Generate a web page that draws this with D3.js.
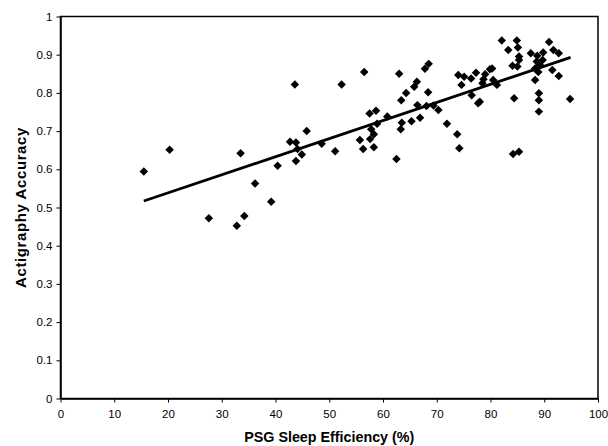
<!DOCTYPE html>
<html>
<head>
<meta charset="utf-8">
<script src="https://cdn.jsdelivr.net/npm/d3@7"></script>
<style>
  body { margin: 0; background: #fff; }
  svg { display: block; font-family: "Liberation Sans", Arial, sans-serif; }
</style>
</head>
<body>
<svg id="chart" width="608" height="446"></svg>
<script>
// PSG sleep efficiency (%) for each subject
const psgEfficiency = [
  15.5, 20.3, 27.6, 32.8, 33.5, 34.2, 36.2, 39.2, 40.4, 42.7, 43.6, 43.8, 43.8,
  44.1, 44.9, 45.8, 48.6, 51.1, 52.3, 55.7, 56.3, 56.5, 57.5, 57.6, 57.8, 58.3,
  58.3, 58.7, 58.9, 60.8, 62.5, 63.0, 63.3, 63.4, 63.5, 64.3, 65.3, 65.8, 66.3,
  66.4, 66.9, 67.8, 68.1, 68.4, 68.5, 69.4, 70.3, 71.9, 73.8, 74.0, 74.2, 74.6,
  75.1, 76.4, 76.5, 77.3, 77.7, 78.0, 78.5, 78.7, 79.0, 79.9, 80.3, 80.5, 81.2,
  82.1, 83.3, 84.1, 84.2, 84.4, 84.9, 85.0, 85.1, 85.3, 85.3, 85.3, 87.5, 88.3,
  88.3, 88.6, 88.7, 88.9, 88.9, 89.0, 89.0, 89.0, 89.2, 89.7, 89.8, 90.9, 91.5,
  91.7, 92.7, 92.7, 94.8
];
// actigraphy accuracy for each subject
const actiAccuracy = [
  0.594, 0.651, 0.472, 0.452, 0.642, 0.478, 0.563, 0.515, 0.609, 0.672, 0.822, 0.622, 0.670,
  0.653, 0.639, 0.700, 0.667, 0.647, 0.822, 0.677, 0.653, 0.855, 0.746, 0.679, 0.705, 0.692,
  0.658, 0.753, 0.719, 0.738, 0.627, 0.850, 0.705, 0.781, 0.722, 0.800, 0.726, 0.816, 0.829,
  0.768, 0.735, 0.863, 0.766, 0.802, 0.876, 0.767, 0.755, 0.719, 0.692, 0.847, 0.655, 0.821,
  0.842, 0.838, 0.794, 0.853, 0.773, 0.777, 0.825, 0.836, 0.849, 0.862, 0.864, 0.834, 0.821,
  0.937, 0.912, 0.871, 0.640, 0.786, 0.937, 0.869, 0.919, 0.895, 0.886, 0.646, 0.904, 0.864,
  0.834, 0.882, 0.897, 0.869, 0.855, 0.799, 0.781, 0.751, 0.873, 0.886, 0.906, 0.933, 0.860,
  0.912, 0.904, 0.844, 0.784
];
// linear trend line end points
const trendX = [15.5, 94.9];
const trendY = [0.517, 0.893];

const xTicks = [0, 10, 20, 30, 40, 50, 60, 70, 80, 90, 100];
const yTicks = [0, 0.1, 0.2, 0.3, 0.4, 0.5, 0.6, 0.7, 0.8, 0.9, 1];

const margin = { top: 16.5, right: 10, bottom: 47.5, left: 60.5 };
const width = 608, height = 446;

const svg = d3.select("#chart");

const x = d3.scaleLinear().domain([0, 100]).range([margin.left, width - margin.right]);
const y = d3.scaleLinear().domain([0, 1]).range([height - margin.bottom, margin.top]);

// plot frame
svg.append("rect")
    .attr("x", x(0))
    .attr("y", y(1))
    .attr("width", x(100) - x(0))
    .attr("height", y(0) - y(1))
    .attr("fill", "none")
    .attr("stroke", "#000")
    .attr("stroke-width", 1.5);

const xAxis = d3.axisBottom(x).tickValues(xTicks).tickFormat(d3.format("d")).tickSize(4).tickSizeOuter(0);
const yAxis = d3.axisLeft(y).tickValues(yTicks).tickFormat(d => d === 0 || d === 1 ? String(d) : d3.format(".1f")(d)).tickSize(4).tickSizeOuter(0);

svg.append("g")
    .attr("transform", `translate(0,${y(0)})`)
    .call(xAxis)
    .call(g => g.select(".domain").attr("stroke-width", 1.5))
    .call(g => g.selectAll("text").attr("font-size", 11.5).attr("fill", "#000").attr("dy", "1.05em"));

svg.append("g")
    .attr("transform", `translate(${x(0)},0)`)
    .call(yAxis)
    .call(g => g.select(".domain").attr("stroke-width", 1.5))
    .call(g => g.selectAll("text").attr("font-size", 11.5).attr("fill", "#000").attr("x", -8));

// trend line
svg.append("line")
    .attr("x1", x(trendX[0]))
    .attr("y1", y(trendY[0]))
    .attr("x2", x(trendX[1]))
    .attr("y2", y(trendY[1]))
    .attr("stroke", "#000")
    .attr("stroke-width", 2.8);

// diamonds
const diamond = d3.symbol().type(d3.symbolSquare).size(36);
svg.append("g")
  .selectAll("path")
  .data(d3.range(psgEfficiency.length))
  .join("path")
    .attr("d", diamond)
    .attr("transform", i => `translate(${x(psgEfficiency[i])},${y(actiAccuracy[i])}) rotate(45)`)
    .attr("fill", "#000");

svg.append("text")
    .attr("x", (x(0) + x(100)) / 2)
    .attr("y", 442)
    .attr("text-anchor", "middle")
    .attr("font-size", 14.3)
    .attr("font-weight", "bold")
    .text("PSG Sleep Efficiency (%)");

svg.append("text")
    .attr("transform", `translate(26,${(y(0) + y(1)) / 2}) rotate(-90)`)
    .attr("text-anchor", "middle")
    .attr("font-size", 15)
    .attr("font-weight", "bold")
    .attr("letter-spacing", 0.6)
    .text("Actigraphy Accuracy");
</script>
</body>
</html>
